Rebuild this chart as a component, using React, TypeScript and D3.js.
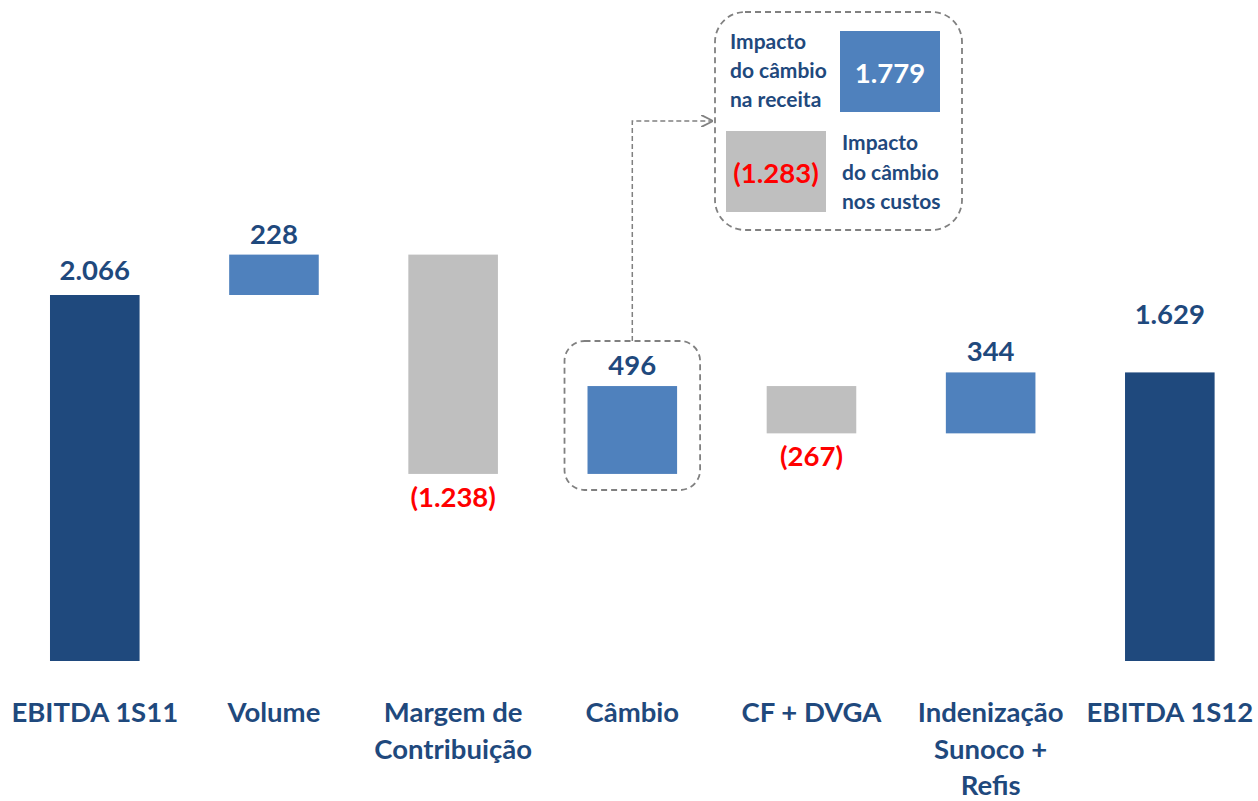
import React from "react";
import * as d3 from "d3";

const categories = ["EBITDA 1S11", "Volume", "Margem de Contribuição", "Câmbio", "CF + DVGA", "Indenização Sunoco + Refis", "EBITDA 1S12"];
const categoryLines = [["EBITDA 1S11"], ["Volume"], ["Margem de", "Contribuição"], ["Câmbio"], ["CF + DVGA"], ["Indenização", "Sunoco +", "Refis"], ["EBITDA 1S12"]];
const values = [2066, 228, -1238, 496, -267, 344, 1629];
const kinds = ["total", "delta", "delta", "delta", "delta", "delta", "total"];
const valueLabels = ["2.066", "228", "(1.238)", "496", "(267)", "344", "1.629"];

const calloutValues = [1779, -1283];
const calloutValueLabels = ["1.779", "(1.283)"];
const calloutTextRevenue = ["Impacto", "do câmbio", "na receita"];
const calloutTextCost = ["Impacto", "do câmbio", "nos custos"];

const NAVY = "#1F497D";
const BLUE = "#4F81BD";
const GRAY = "#BFBFBF";
const RED = "#FF0000";
const TEXT = "#1F497D";
const FONT = "Lato, 'Open Sans', sans-serif";

export default function App() {
  const W = 1258, H = 801;
  const x = d3.scaleBand<string>().domain(categories).range([5.2, 1259.4]).paddingInner(0.5).paddingOuter(0.25);
  const y = d3.scaleLinear().domain([0, 2066]).range([661, 295]);
  const bw = x.bandwidth();

  let cum = 0;
  const bars = categories.map((c, i) => {
    let y0: number, y1: number;
    if (kinds[i] === "total") { y0 = 0; y1 = values[i]; cum = values[i]; }
    else { y0 = cum; y1 = cum + values[i]; cum = y1; }
    const top = y(Math.max(y0, y1));
    const bot = y(Math.min(y0, y1));
    const fill = kinds[i] === "total" ? NAVY : values[i] >= 0 ? BLUE : GRAY;
    return { c, i, top, bot, fill, x: x(c)!, cx: x(c)! + bw / 2 };
  });

  const cam = bars[3];
  const boxPad = 23;

  return (
    <svg width={W} height={H} style={{ position: "absolute", left: 0, top: 0, background: "#fff" }} fontFamily={FONT} fontWeight="bold">
      <defs>
        <marker id="arr" viewBox="0 0 10 10" refX="9" refY="5" markerWidth="12" markerHeight="12" markerUnits="userSpaceOnUse" orient="auto">
          <path d="M0,0 L10,5 L0,10" fill="none" stroke="#808080" strokeWidth="1.5" />
        </marker>
      </defs>
      {bars.map(b => (
        <rect key={b.c} x={b.x} y={b.top} width={bw} height={b.bot - b.top} fill={b.fill} />
      ))}
      {bars.map(b => {
        const neg = values[b.i] < 0;
        let ty = neg ? b.bot + 33 : kinds[b.i] === "total" ? b.top - 15 : b.top - 11;
        if (b.i === 6) ty = b.top - 48;
        return (
          <text key={"v" + b.c} x={b.cx} y={ty} textAnchor="middle" fontSize={27.5} fill={neg ? RED : TEXT}>
            {valueLabels[b.i]}
          </text>
        );
      })}
      {bars.map(b => (
        <text key={"c" + b.c} x={b.cx} textAnchor="middle" fontSize={27.5} fill={TEXT}>
          {categoryLines[b.i].map((l, k) => (
            <tspan key={k} x={b.cx} y={722 + k * 36.5}>{l}</tspan>
          ))}
        </text>
      ))}
      {/* Câmbio highlight box */}
      <rect x={cam.x - boxPad} y={341} width={bw + boxPad * 2} height={149} rx={20} fill="none" stroke="#808080" strokeWidth={1.8} strokeDasharray="6,4" />
      <path d={`M${cam.cx},341 V121 H712`} fill="none" stroke="#808080" strokeWidth={1.5} strokeDasharray="5,3" markerEnd="url(#arr)" />
      {/* callout */}
      <rect x={715} y={12} width={247} height={218} rx={30} fill="none" stroke="#808080" strokeWidth={1.8} strokeDasharray="6,4" />
      <rect x={840} y={31} width={100} height={81} fill={BLUE} />
      <text x={890} y={83} textAnchor="middle" fontSize={27.5} fill="#fff">{calloutValueLabels[0]}</text>
      <text fontSize={21} fill={TEXT}>
        {calloutTextRevenue.map((l, k) => <tspan key={k} x={730} y={49 + k * 29}>{l}</tspan>)}
      </text>
      <rect x={726} y={131} width={100} height={81} fill={GRAY} />
      <text x={776} y={183} textAnchor="middle" fontSize={27.5} fill={RED}>{calloutValueLabels[1]}</text>
      <text fontSize={21} fill={TEXT}>
        {calloutTextCost.map((l, k) => <tspan key={k} x={842} y={150 + k * 29.5}>{l}</tspan>)}
      </text>
      <g style={{ display: "none" }}>{calloutValues.join(",")}</g>
    </svg>
  );
}
